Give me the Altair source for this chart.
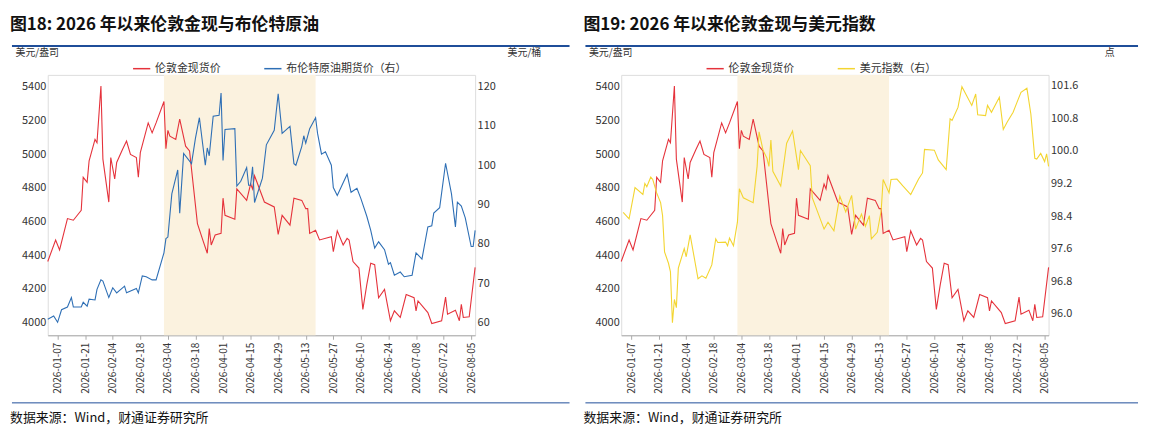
import altair as alt
import pandas as pd

BASE = "2026-01-07"
# day offsets from 2026-01-07 and values
gold_d = [-5,-1,1,5,8,12,13,15,16,19,20,22,23,26,27,29,30,33,35,37,40,41,42,46,48,50,54,55,56,57,60,62,65,67,71,74,76,77,78,80,83,84,85,90,91,96,98,99,100,105,110,112,114,118,120,124,126,127,128,131,133,139,140,142,145,147,148,150,153,155,157,159,161,163,166,169,171,174,177,181,182,183,188,190,195,197,198,202,204,205,206,209,212]
gold_v = [4362,4490,4431,4617,4607,4666,4862,4832,4960,5087,5067,5404,4970,4715,4979,4852,4950,5028,5077,4998,4979,4862,5008,5185,5126,5185,5312,5032,5141,5106,5087,5208,5047,5018,4587,4480,4411,4558,4460,4519,4529,4738,4636,4613,4793,4725,4822,4793,4871,4715,4686,4523,4636,4578,4738,4725,4676,4676,4529,4548,4490,4509,4421,4544,4460,4499,4490,4362,4323,4078,4225,4352,4343,4147,4196,4010,4069,4030,4166,4147,4069,4128,4059,3994,4010,4151,4049,4073,4010,4108,4030,4034,4327]

brent_d = [-5,-2,0,2,5,7,8,12,13,15,16,19,20,22,23,26,28,30,34,35,40,41,43,45,48,50,54,55,56,58,61,62,64,68,70,72,75,76,77,79,82,83,84,85,90,91,93,96,97,98,99,100,104,106,110,112,114,118,120,121,124,125,126,128,131,132,134,136,139,140,142,147,149,152,154,157,159,161,163,166,168,169,171,174,176,180,182,185,188,190,191,194,197,200,202,203,205,207,210,211,212]
brent_v = [60.8,61.6,60.0,63.2,63.9,66.3,63.9,63.9,65.1,64.1,65.9,65.7,68.4,70.8,70.5,66.3,68.8,67.5,69.2,67.5,68.6,67.5,71.8,71.6,70.8,70.8,77.7,81.3,81.7,92.7,98.8,87.8,103.0,100.4,106.9,112.1,100.0,104.4,102.4,112.5,112.7,118.4,101.2,109.1,109.3,94.7,95.9,99.4,94.9,94.9,99.6,90.5,96.7,105.2,108.9,118.2,108.1,109.9,100.4,100.0,104.8,107.5,105.6,109.3,112.1,108.1,102.8,103.4,100.0,94.3,92.3,97.7,93.1,94.1,91.5,87.0,83.4,78.9,80.5,78.5,74.8,75.2,72.0,72.8,71.6,72.0,77.7,76.1,84.3,84.6,87.8,89.2,100.5,92.7,84.3,90.6,89.6,86.6,79.3,79.3,83.4]

dxy_d = [-4,-1,2,6,7,8,10,11,13,15,16,17,19,20,21,22,23,24,27,28,30,34,36,38,41,43,44,48,49,50,52,54,55,57,62,64,65,67,69,70,71,72,76,79,82,85,86,91,92,98,100,103,106,109,112,114,117,119,121,122,125,127,128,131,132,135,138,142,146,148,149,154,156,160,162,163,166,168,173,175,176,180,181,183,187,189,191,194,196,198,201,203,205,206,208,210,211,212]
dxy_v = [98.49,98.33,99.10,98.93,99.20,99.12,99.36,99.30,98.97,98.73,98.41,97.52,97.24,97.03,95.78,96.35,96.15,97.12,97.60,97.40,97.94,96.86,96.93,96.87,97.20,97.84,97.75,97.76,97.67,97.86,97.67,98.25,99.07,98.85,98.73,99.62,100.47,100.02,99.82,99.62,100.27,99.50,99.14,100.19,100.49,99.54,100.01,99.64,98.85,98.08,98.25,98.04,98.89,98.50,98.91,98.08,98.45,98.15,98.41,97.84,98.00,98.53,99.30,98.97,99.30,99.31,99.14,98.93,99.31,99.46,100.04,100.02,99.78,99.54,100.79,100.75,101.07,101.58,101.12,101.40,100.89,100.87,101.12,100.95,101.32,100.53,100.71,100.95,101.20,101.44,101.54,100.91,99.82,99.80,99.94,99.74,99.93,99.62]

shade_d = [54, 131]
tick_d = list(range(0, 211, 14))

def ms(d):
    return int((pd.Timestamp(BASE) + pd.Timedelta(days=d)).value // 10**6)

def frame(ds, vs):
    return pd.DataFrame({"t": [ms(d) for d in ds], "v": vs})

RED = "#E5323B"
BLUE = "#2E6FB5"
YEL = "#F3D531"
SHADE = "#FBF2DF"
RULE = "#1F4E99"
FONT = "Noto Sans CJK SC"
W, H = 430, 262
L = -38

def panel(title, other_df, other_name, other_color, ydom, yvals, yfmt, ytitle, rend):
    xsc = alt.Scale(type="utc", domain=[ms(-5), ms(212)], nice=False)
    xax = alt.Axis(values=[ms(d) for d in tick_d], labelExpr="utcFormat(datum.value, '%Y-%m-%d')",
                   labelAngle=-90, grid=False, title=None, labelFontSize=10, labelColor="#333",
                   domainColor="#aaa", tickColor="#aaa", tickSize=4, labelPadding=3)
    colsc = alt.Scale(domain=["伦敦金现货价", other_name], range=[RED, other_color])
    leg = alt.Legend(orient="none", legendX=85, legendY=-16, direction="horizontal", title=None,
                     symbolType="stroke", symbolStrokeWidth=1.5, labelFontSize=11, labelFont=FONT,
                     symbolSize=300, columnPadding=40, labelColor="#333")
    shade = alt.Chart(pd.DataFrame({"a": [ms(shade_d[0])], "b": [ms(shade_d[1])]})).mark_rect(color=SHADE).encode(
        x=alt.X("a:Q", scale=xsc, axis=xax), x2="b:Q")
    g = alt.Chart(frame(gold_d, gold_v)).transform_calculate(s="'伦敦金现货价'").mark_line(strokeWidth=1.1).encode(
        x=alt.X("t:Q", scale=xsc, axis=xax),
        y=alt.Y("v:Q", scale=alt.Scale(domain=[3924, 5470], nice=False, zero=False),
                axis=alt.Axis(values=list(range(4000, 5401, 200)), format="d", grid=False, domain=False, ticks=False,
                              title="美元/盎司", titleAngle=0, titleAlign="left", titleX=-33, titleY=-18,
                              titleFont=FONT, titleFontSize=10, titleFontWeight="normal", titleColor="#333",
                              labelFontSize=11, labelColor="#333")),
        color=alt.Color("s:N", scale=colsc, legend=leg))
    o = alt.Chart(other_df).transform_calculate(s=f"'{other_name}'").mark_line(strokeWidth=1.1).encode(
        x=alt.X("t:Q", scale=xsc, axis=xax),
        y=alt.Y("v:Q", scale=alt.Scale(domain=ydom, nice=False, zero=False),
                axis=alt.Axis(orient="right", values=yvals, format=yfmt, grid=False, domain=False, ticks=False,
                              title=ytitle, titleAngle=0, titleAlign="right", titleX=66, titleY=-18,
                              titleFont=FONT, titleFontSize=10, titleFontWeight="normal", titleColor="#333",
                              labelFontSize=11, labelColor="#333")),
        color=alt.Color("s:N", scale=colsc, legend=leg))
    one = pd.DataFrame({"k": [0]})
    top_rule = alt.Chart(one).mark_rule(color=RULE, strokeWidth=2).encode(
        x=alt.value(L + 2), x2=alt.value(W + rend), y=alt.value(-29))
    bot_rule = alt.Chart(one).mark_rule(color=RULE, strokeWidth=1).encode(
        x=alt.value(L + 2), x2=alt.value(W + rend), y=alt.value(H + 68))
    src = alt.Chart(one).mark_text(align="left", baseline="middle", font=FONT, fontSize=13, color="#111").encode(
        x=alt.value(L), y=alt.value(H + 83), text=alt.value("数据来源：Wind，财通证券研究所"))
    ttl = alt.Chart(one).mark_text(align="left", baseline="middle", font=FONT, fontSize=17, fontWeight="bold",
                                   color="#111").encode(
        x=alt.value(L), y=alt.value(-50), text=alt.value(title))
    return alt.layer(shade, g, o, top_rule, bot_rule, src, ttl).resolve_scale(y="independent").properties(
        width=W, height=H)

p1 = panel("图18: 2026 年以来伦敦金现与布伦特原油", frame(brent_d, brent_v), "布伦特原油期货价（右）", BLUE,
           [56.7, 123.0], [60, 70, 80, 90, 100, 110, 120], "d", "美元/桶", 95)
p2 = panel("图19: 2026 年以来伦敦金现与美元指数", frame(dxy_d, dxy_v), "美元指数（右）", YEL,
           [95.47, 101.87], [96.0, 96.8, 97.6, 98.4, 99.2, 100.0, 100.8, 101.6], ".1f", "点", 90)

chart = alt.hconcat(p1, p2, spacing=11).resolve_scale(color="independent").configure_view(
    stroke=None).configure(font=FONT).properties(padding={"left": 1, "top": 6, "right": 2, "bottom": 2})
chart.save("out.html", embed_options={"renderer": "svg", "actions": False})
